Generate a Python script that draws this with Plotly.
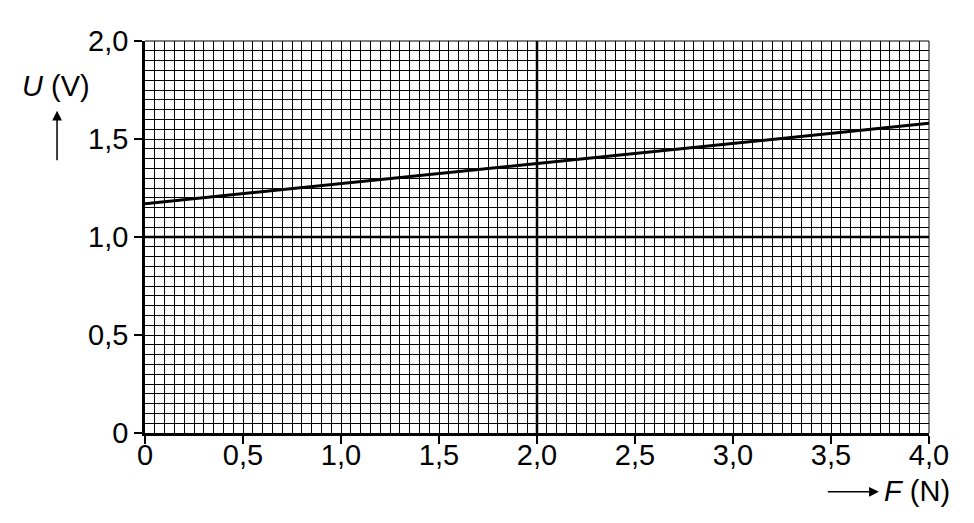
import plotly.graph_objects as go

# measured line U(F)
force = [0.0, 4.0]
voltage = [1.17, 1.58]

x_ticks = [0, 0.5, 1.0, 1.5, 2.0, 2.5, 3.0, 3.5, 4.0]
x_labels = ["0", "0,5", "1,0", "1,5", "2,0", "2,5", "3,0", "3,5", "4,0"]
y_ticks = [0, 0.5, 1.0, 1.5, 2.0]
y_labels = ["0", "0,5", "1,0", "1,5", "2,0"]

FONT = "Liberation Sans, Arial, sans-serif"
TEXT_SIZE = 29

fig = go.Figure()
fig.add_trace(
    go.Scatter(
        x=force,
        y=voltage,
        mode="lines",
        line={"color": "black", "width": 3},
        showlegend=False,
        hoverinfo="skip",
    )
)

axis_common = {
    "showgrid": True,
    "gridcolor": "black",
    "gridwidth": 1,
    "minor": {"dtick": 0.05, "showgrid": True, "gridcolor": "black", "gridwidth": 1},
    "showline": True,
    "linecolor": "black",
    "linewidth": 2.5,
    "ticks": "outside",
    "ticklen": 8,
    "tickwidth": 2,
    "tickcolor": "black",
    "zeroline": False,
    "tickfont": {"family": FONT, "size": TEXT_SIZE, "color": "black"},
    "tickmode": "array",
}

# page has an 8px body margin, so the figure is a bit smaller than the window
fig.update_layout(
    width=966,
    height=515,
    plot_bgcolor="white",
    paper_bgcolor="white",
    margin={"l": 137, "r": 45, "t": 33, "b": 90},
    xaxis={**axis_common, "range": [0, 4.0], "tickvals": x_ticks, "ticktext": x_labels,
           "ticklabelstandoff": -14},
    yaxis={**axis_common, "range": [0, 2.0], "tickvals": y_ticks, "ticktext": y_labels},
    font={"family": FONT, "color": "black"},
)

# heavier reference lines at F = 2,0 and U = 1,0, plus thin top/right border
fig.add_shape(type="line", xref="x", yref="paper", x0=2.0, x1=2.0, y0=0, y1=1,
              line={"color": "black", "width": 2.5})
fig.add_shape(type="line", xref="paper", yref="y", x0=0, x1=1, y0=1.0, y1=1.0,
              line={"color": "black", "width": 2.5})
fig.add_shape(type="line", xref="paper", yref="paper", x0=0, x1=1, y0=1, y1=1,
              line={"color": "black", "width": 1})
fig.add_shape(type="line", xref="paper", yref="paper", x0=1, x1=1, y0=0, y1=1,
              line={"color": "black", "width": 1})

# axis quantity labels with arrows
fig.add_annotation(text="<i>U</i> (V)", xref="paper", yref="paper", x=-0.1135, y=0.885,
                   xanchor="center", yanchor="middle", showarrow=False,
                   font={"family": FONT, "size": TEXT_SIZE, "color": "black"})
fig.add_annotation(text=" ", xref="paper", yref="paper", x=-0.1122, y=0.822,
                   xanchor="center", yanchor="middle",
                   showarrow=True, ax=0, ay=58, arrowhead=2, arrowsize=1.3,
                   arrowwidth=1.5, arrowcolor="black")
fig.add_annotation(text="<i>F</i> (N)", xref="paper", yref="paper", x=0.985, y=-0.148,
                   xanchor="center", yanchor="middle", showarrow=False,
                   font={"family": FONT, "size": TEXT_SIZE, "color": "black"})
fig.add_annotation(text=" ", xref="paper", yref="paper", x=0.936, y=-0.150,
                   xanchor="center", yanchor="middle",
                   showarrow=True, ax=-54, ay=0, arrowhead=2, arrowsize=1.3,
                   arrowwidth=1.5, arrowcolor="black")

fig.write_html("out.html")
